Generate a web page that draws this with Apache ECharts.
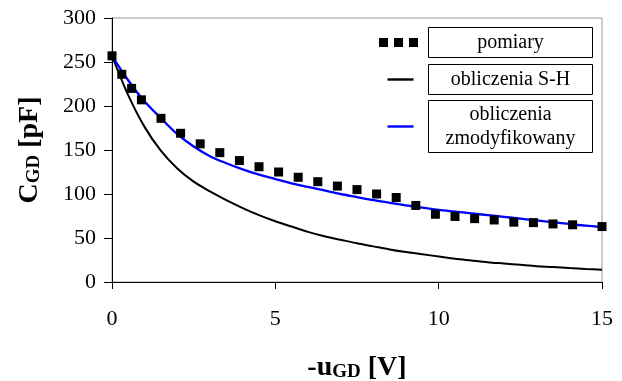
<!DOCTYPE html>
<html>
<head>
<meta charset="utf-8">
<script src="https://cdn.jsdelivr.net/npm/echarts@6/dist/echarts.min.js"></script>
<style>
  html, body { margin: 0; padding: 0; background: #fff; }
  #chart { width: 622px; height: 381px; }
</style>
</head>
<body>
<div id="chart"></div>
<script>
// measured points (pomiary)
const measX = [0, 0.3, 0.6, 0.9, 1.5, 2.1, 2.7, 3.3, 3.9, 4.5, 5.1, 5.7, 6.3, 6.9, 7.5, 8.1, 8.7, 9.3, 9.9, 10.5, 11.1, 11.7, 12.3, 12.9, 13.5, 14.1, 15];
const measY = [257, 236, 220, 207, 186, 169, 157, 147, 138, 131, 125, 119, 114, 109, 105, 100, 96, 87, 77, 74.5, 72, 70.5, 68, 67.5, 66, 65, 63];

// calculated curves, read every 0.5 V
const curveX = [0, 0.5, 1, 1.5, 2, 2.5, 3, 3.5, 4, 4.5, 5, 5.5, 6, 6.5, 7, 7.5, 8, 8.5, 9, 9.5, 10, 10.5, 11, 11.5, 12, 12.5, 13, 13.5, 14, 14.5, 15];
const shY  = [257, 212, 176, 149, 129, 114, 103, 93, 84, 76, 69, 63, 57, 52, 48, 44, 40.5, 37, 34, 31.5, 29, 26.5, 24.5, 22.5, 21, 19.5, 18, 17, 15.8, 14.8, 14];
const modY = [257, 229, 205, 186, 168, 154, 143, 135, 128, 122, 117, 112, 108, 104, 100, 96.5, 93, 90, 87, 84.5, 82, 80, 78, 76, 74, 72, 70, 68, 66, 64, 62.5];

const xTicks = { min: 0, max: 15, interval: 5 };
const yTicks = { min: 0, max: 300, interval: 50 };

const serif = "'Liberation Serif', 'Times New Roman', serif";
const zip = (xs, ys) => xs.map((x, i) => [x, ys[i]]);

const chart = echarts.init(document.getElementById("chart"), null, { renderer: "canvas" });

// boxed legend label: frame around the whole block, lines centred inside
const boxLabel = (pad) => ({
  color: "#000",
  fontFamily: serif,
  fontSize: 20,
  borderColor: "#000",
  borderWidth: 1,
  padding: pad,
  rich: {
    t: { color: "#000", fontFamily: serif, fontSize: 20, lineHeight: 24, width: 164, align: "center" },
  },
});

const option = {
  animation: false,
  backgroundColor: "#fff",
  grid: {
    left: 112, right: 20, top: 18, bottom: 99,
    outerBoundsMode: "none",
    show: true, borderColor: "#9a9a9a", borderWidth: 1,
  },
  legend: [
    {
      data: [{ name: "pomiary", icon: "path://M0,0h9v9h-9z M15,0h9v9h-9z M30,0h9v9h-9z" }],
      right: 29, top: 27, padding: 0,
      itemWidth: 50, itemHeight: 9,
      formatter: "{t|pomiary}",
      textStyle: boxLabel([3, 0]),
    },
    {
      data: [{ name: "obliczenia S-H", icon: "path://M0,0h26v2.4h-26z" }],
      right: 29, top: 64, padding: 0,
      itemWidth: 46, itemHeight: 2.4,
      formatter: "{t|obliczenia S-H}",
      textStyle: boxLabel([3, 0]),
    },
    {
      data: [{ name: "obliczenia zmodyfikowany", icon: "path://M0,0h26v2.4h-26z" }],
      right: 29, top: 100, padding: 0,
      itemWidth: 46, itemHeight: 2.4,
      formatter: "{t|obliczenia}\n{t|zmodyfikowany}",
      textStyle: boxLabel([2, 0]),
    },
  ],
  xAxis: {
    type: "value",
    min: xTicks.min, max: xTicks.max, interval: xTicks.interval,
    name: "{b|-u}{s|GD}{b| [V]}",
    nameLocation: "middle",
    nameGap: 71,
    nameTextStyle: {
      rich: {
        b: { fontFamily: serif, fontSize: 28, fontWeight: "bold", color: "#000" },
        s: { fontFamily: serif, fontSize: 19, fontWeight: "bold", color: "#000", padding: [10, 0, 0, 0] },
      },
    },
    axisLine: { lineStyle: { color: "#000", width: 1 } },
    axisTick: { length: 7, lineStyle: { color: "#000" } },
    axisLabel: { color: "#000", fontFamily: serif, fontSize: 22, margin: 26 },
    splitLine: { show: false },
  },
  yAxis: {
    type: "value",
    min: yTicks.min, max: yTicks.max, interval: yTicks.interval,
    name: "{b|C}{s|GD}{b| [pF]}",
    nameLocation: "middle",
    nameGap: 68,
    nameTextStyle: {
      rich: {
        b: { fontFamily: serif, fontSize: 28, fontWeight: "bold", color: "#000" },
        s: { fontFamily: serif, fontSize: 19, fontWeight: "bold", color: "#000", padding: [10, 0, 0, 0] },
      },
    },
    axisLine: { show: true, lineStyle: { color: "#000", width: 1 } },
    axisTick: { show: true, length: 8, lineStyle: { color: "#000" } },
    axisLabel: { color: "#000", fontFamily: serif, fontSize: 22, margin: 16 },
    splitLine: { show: false },
  },
  series: [
    {
      name: "obliczenia S-H",
      type: "line",
      smooth: 0.3,
      symbol: "none",
      data: zip(curveX, shY),
      itemStyle: { color: "#000" },
      lineStyle: { color: "#000", width: 2 },
      z: 2,
    },
    {
      name: "obliczenia zmodyfikowany",
      type: "line",
      smooth: 0.3,
      symbol: "none",
      data: zip(curveX, modY),
      itemStyle: { color: "#0000ff" },
      lineStyle: { color: "#0000ff", width: 2.3 },
      z: 3,
    },
    {
      name: "pomiary",
      type: "scatter",
      symbol: "rect",
      symbolSize: 9,
      data: zip(measX, measY),
      itemStyle: { color: "#000", opacity: 1 },
      z: 4,
    },
  ],
};

chart.setOption(option);
window.addEventListener("resize", () => chart.resize());
</script>
</body>
</html>
